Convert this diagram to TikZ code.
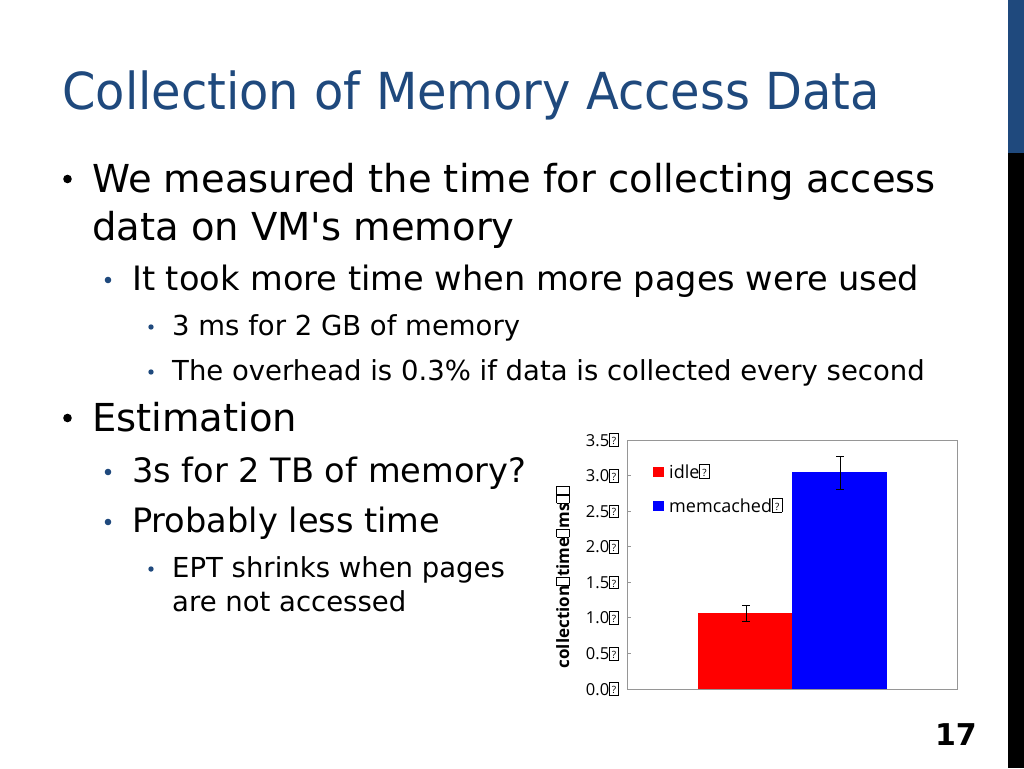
\documentclass[tikz,border=0pt]{standalone}
\usepackage{fontspec}
\setmainfont{DejaVu Sans}
\newfontfamily\titlefont[FakeStretch=0.94]{DejaVu Sans}
\newfontfamily\chartfont{Open Sans}
\definecolor{tblue}{RGB}{31,73,125}
\definecolor{framegray}{RGB}{150,150,150}
\newcommand\tofuq{{\setlength{\fboxsep}{0pt}\setlength{\fboxrule}{0.5pt}\fbox{\makebox[0.52em][c]{\rule{0pt}{0.74em}\raisebox{0.08em}{\fontsize{10}{10}\selectfont ?}}}}}
\newcommand\tofue{{\setlength{\fboxsep}{0pt}\setlength{\fboxrule}{0.6pt}\fbox{\makebox[0.45em]{\rule{0pt}{0.72em}}}}}
\tikzset{
  lone/.style={anchor=base west, inner sep=0pt, font=\fontsize{38.5}{46}\selectfont},
  ltwo/.style={anchor=base west, inner sep=0pt, font=\fontsize{33.6}{40}\selectfont},
  lthree/.style={anchor=base west, inner sep=0pt, font=\fontsize{27.5}{32}\selectfont},
  tick/.style={anchor=east, inner sep=0pt, font=\chartfont\fontsize{16.5}{18}\selectfont},
  legtext/.style={anchor=base west, inner sep=0pt, font=\chartfont\fontsize{18}{20}\selectfont},
  errbar/.style={draw=black, line width=0.9pt},
}
\begin{document}
\begin{tikzpicture}[x=1pt,y=-1pt]
\useasboundingbox (0,0) rectangle (1024,768);
\fill[white] (0,0) rectangle (1024,768);
% right strip
\fill[tblue] (1008,0) rectangle (1024,153);
\fill[black] (1008,153) rectangle (1024,768);
% title
\node[anchor=base west, inner sep=0pt, text=tblue, font=\titlefont\fontsize{51}{56}\selectfont] (title) at (62,109) {Collection of Memory Access Data};
% bullets
\fill[black] (67.5,179) circle (4.3);
\node[lone] (b1a) at (92,192) {We measured the time for collecting access};
\node[lone] (b1b) at (92,240) {data on VM\textquotesingle s memory};
\fill[tblue] (108,280) circle (3.3);
\node[ltwo] (b2a) at (132,290) {It took more time when more pages were used};
\fill[tblue] (151,327) circle (2.7);
\node[lthree] (b3a) at (172,335) {3 ms for 2 GB of memory};
\fill[tblue] (151,372) circle (2.7);
\node[lthree] (b3b) at (172,380) {The overhead is 0.3\% if data is collected every second};
\fill[black] (67.5,418) circle (4.3);
\node[lone] (b1c) at (92,431) {Estimation};
\fill[tblue] (108,472) circle (3.3);
\node[ltwo] (b2b) at (132,482) {3s for 2 TB of memory?};
\fill[tblue] (108,522) circle (3.3);
\node[ltwo] (b2c) at (132,532) {Probably less time};
\fill[tblue] (151,569) circle (2.7);
\node[lthree] (b3c) at (172,577) {EPT shrinks when pages};
\node[lthree] (b3d) at (172,611) {are not accessed};
% chart
\fill[red] (698,613) rectangle (792,689);
\fill[blue] (792,472) rectangle (887,689);
\draw[framegray, line width=0.8pt] (627,440) rectangle (957,689);
\foreach \v/\lab in {0/0.0,1/0.5,2/1.0,3/1.5,4/2.0,5/2.5,6/3.0,7/3.5}{
  \pgfmathsetmacro{\yy}{689-35.57*\v}
  \draw[framegray, line width=0.8pt] (627,\yy) -- (631,\yy);
  \node[tick] (t\v) at (619,\yy) {\lab\tofuq};
}
% error bars
\draw[errbar] (746,605) -- (746,621);
\draw[errbar] (742,605) -- (750,605);
\draw[errbar] (742,621) -- (750,621);
\draw[errbar] (840,456) -- (840,489);
\draw[errbar] (836,456) -- (844,456);
\draw[errbar] (836,489) -- (844,489);
% legend
\fill[red] (653,467) rectangle (664,477);
\node[legtext] (lg1) at (669,478) {idle\tofuq};
\fill[blue] (653,501) rectangle (664,511);
\node[legtext] (lg2) at (669,512) {memcached\tofuq};
% axis label
\node[rotate=90, inner sep=0pt, font=\chartfont\bfseries\fontsize{17}{19}\selectfont] (ylab) at (563,577) {collection\tofue time\tofue ms\tofue\tofue};
% page number
\node[anchor=base east, inner sep=0pt, font=\bfseries\fontsize{30}{34}\selectfont] (pg) at (977,745) {17};
\end{tikzpicture}
\end{document}
